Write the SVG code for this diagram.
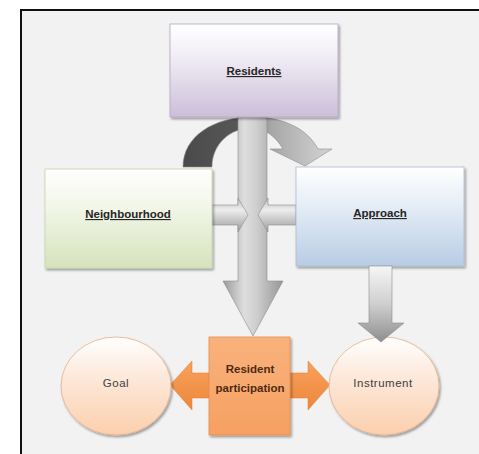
<svg xmlns="http://www.w3.org/2000/svg" width="479" height="454" viewBox="0 0 479 454">
  <style>
    .lbl { font-family: "Liberation Sans", Arial, sans-serif; font-size: 11.5px; font-weight: bold; fill: #262626; text-anchor: middle; text-decoration: underline; }
    .circ-lbl { font-family: "Liberation Sans", Arial, sans-serif; font-size: 11.5px; letter-spacing: 0.5px; fill: #404040; text-anchor: middle; }
    .rp-lbl { font-family: "Liberation Sans", Arial, sans-serif; font-size: 11.5px; font-weight: bold; fill: #4e2a12; text-anchor: middle; }
    .box { stroke-width: 0.8; filter: url(#shadow); }
    .gray-arrow { stroke: #8c8c8c; stroke-width: 0.6; }
  </style>
  <defs>
    <filter id="shadow" x="-10%" y="-10%" width="125%" height="125%">
      <feDropShadow dx="1.5" dy="2" stdDeviation="1.2" flood-color="#000" flood-opacity="0.35"/>
    </filter>
    <linearGradient id="gPurple" x1="0" y1="0" x2="0" y2="1">
      <stop offset="0" stop-color="#ffffff"/>
      <stop offset="0.35" stop-color="#f1edf5"/>
      <stop offset="1" stop-color="#cbbfd9"/>
    </linearGradient>
    <linearGradient id="gGreen" x1="0" y1="0" x2="0" y2="1">
      <stop offset="0" stop-color="#ffffff"/>
      <stop offset="0.35" stop-color="#f3f7ea"/>
      <stop offset="1" stop-color="#d6e3bc"/>
    </linearGradient>
    <linearGradient id="gBlue" x1="0" y1="0" x2="0" y2="1">
      <stop offset="0" stop-color="#ffffff"/>
      <stop offset="0.35" stop-color="#e8eff7"/>
      <stop offset="1" stop-color="#b8cce4"/>
    </linearGradient>
    <linearGradient id="gPeach" x1="0" y1="0" x2="0" y2="1">
      <stop offset="0" stop-color="#ffffff"/>
      <stop offset="0.4" stop-color="#fde9db"/>
      <stop offset="1" stop-color="#fbcfad"/>
    </linearGradient>
    <linearGradient id="gOrangeBox" x1="0" y1="0" x2="0" y2="1">
      <stop offset="0" stop-color="#f9b27c"/>
      <stop offset="1" stop-color="#f6a062"/>
    </linearGradient>
    <linearGradient id="gOrangeArrow" x1="0" y1="0" x2="0" y2="1">
      <stop offset="0" stop-color="#f9a15c"/>
      <stop offset="1" stop-color="#ec873c"/>
    </linearGradient>
    <linearGradient id="gCurve" gradientUnits="userSpaceOnUse" x1="183" y1="0" x2="332" y2="0">
      <stop offset="0" stop-color="#4a4a4a"/>
      <stop offset="0.4" stop-color="#585858"/>
      <stop offset="0.47" stop-color="#8a8a8a"/>
      <stop offset="0.6" stop-color="#a8a8a8"/>
      <stop offset="1" stop-color="#d4d4d4"/>
    </linearGradient>
    <linearGradient id="gVert" gradientUnits="userSpaceOnUse" x1="223" y1="0" x2="283" y2="0">
      <stop offset="0" stop-color="#9a9a9a"/>
      <stop offset="0.35" stop-color="#dedede"/>
      <stop offset="0.55" stop-color="#cfcfcf"/>
      <stop offset="1" stop-color="#969696"/>
    </linearGradient>
    <linearGradient id="gHoriz" gradientUnits="userSpaceOnUse" x1="0" y1="198" x2="0" y2="232">
      <stop offset="0" stop-color="#bdbdbd"/>
      <stop offset="0.35" stop-color="#ededed"/>
      <stop offset="1" stop-color="#9c9c9c"/>
    </linearGradient>
    <linearGradient id="gInstr" gradientUnits="userSpaceOnUse" x1="0" y1="266" x2="0" y2="342">
      <stop offset="0" stop-color="#f6f6f6"/>
      <stop offset="0.5" stop-color="#cfcfcf"/>
      <stop offset="1" stop-color="#8e8e8e"/>
    </linearGradient>
  </defs>

  <!-- page background and frame -->
  <rect x="0" y="0" width="479" height="454" fill="#ffffff"/>
  <rect x="21" y="10" width="480" height="470" fill="#f2f2f2" stroke="#111111" stroke-width="2"/>

  <!-- connectors -->
  <g id="connectors">
    <!-- curved arrow from Neighbourhood over to Approach -->
    <path class="gray-arrow" fill="url(#gCurve)" stroke-width="0.4"
          d="M183,167 C183,136 214,117 252,117 C286,117 308,130 318,149 L332,149 L305,166 L270,149 L283,149 C276,137 265,128 252,128 C229,128 212,145 212,167 Z"/>
    <!-- main vertical arrow from Residents down to Resident participation -->
    <path class="gray-arrow" fill="url(#gVert)"
          d="M238,117 L267,117 L267,281 L283,281 L253,336 L223,281 L238,281 Z"/>
    <!-- Neighbourhood to centre -->
    <path class="gray-arrow" fill="url(#gHoriz)"
          d="M212,205 L238,205 L238,198 L248,215 L238,232 L238,225 L212,225 Z"/>
    <!-- Approach to centre -->
    <path class="gray-arrow" fill="url(#gHoriz)"
          d="M296,205 L268,205 L268,198 L258,215 L268,232 L268,225 L296,225 Z"/>
    <!-- double arrow: Goal <-> Instrument -->
    <path fill="url(#gOrangeArrow)" stroke="#e07f35" stroke-width="0.5"
          d="M170,385 L192,361 L192,373 L308,373 L308,361 L330,385 L308,410 L308,398 L192,398 L192,410 Z"/>
  </g>

  <g id="residents">
    <rect class="box" x="170" y="24" width="168" height="93" fill="url(#gPurple)" stroke="#b3a6c4"/>
    <text class="lbl" x="254" y="75">Residents</text>
  </g>

  <g id="neighbourhood">
    <rect class="box" x="45" y="169" width="167" height="99" fill="url(#gGreen)" stroke="#c6d3ad"/>
    <text class="lbl" x="128" y="218">Neighbourhood</text>
  </g>

  <g id="approach">
    <rect class="box" x="296" y="167" width="168" height="99" fill="url(#gBlue)" stroke="#a9bcd4"/>
    <text class="lbl" x="380" y="217">Approach</text>
  </g>

  <g id="goal">
    <ellipse class="box" cx="116" cy="386" rx="55" ry="49" fill="url(#gPeach)" stroke="#e3b08a"/>
    <text class="circ-lbl" x="116" y="387">Goal</text>
  </g>

  <g id="instrument">
    <ellipse class="box" cx="384" cy="386" rx="55" ry="49" fill="url(#gPeach)" stroke="#e3b08a"/>
    <text class="circ-lbl" x="383" y="387">Instrument</text>
  </g>

  <!-- Approach down to Instrument, drawn over the circle's top -->
  <g id="connector-instrument">
    <path class="gray-arrow" fill="url(#gInstr)"
          d="M369,266 L392,266 L392,323 L404,323 L381,342 L358,323 L369,323 Z"/>
  </g>

  <g id="resident-participation">
    <rect class="box" x="209" y="337" width="81" height="98" fill="url(#gOrangeBox)" stroke="#e58d4a"/>
    <text class="rp-lbl" x="250" y="373">Resident</text>
    <text class="rp-lbl" x="250" y="392">participation</text>
  </g>
</svg>
